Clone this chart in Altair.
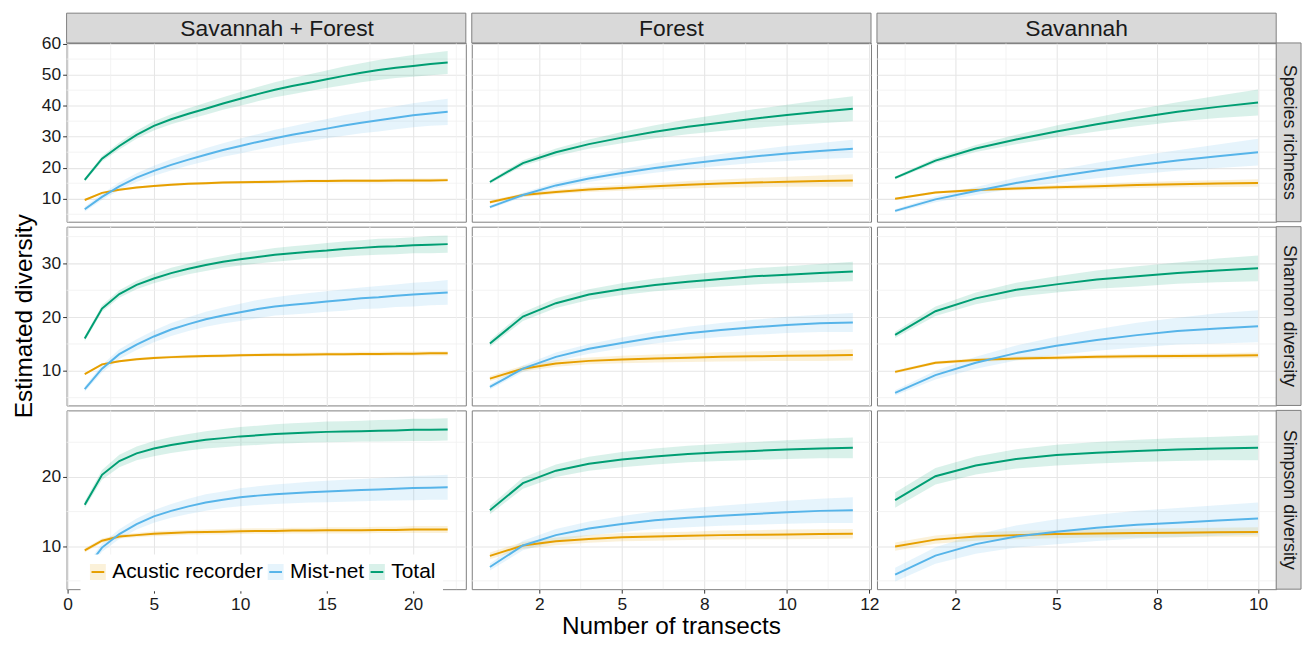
import altair as alt
import pandas as pd

# ---------------- categories / text ----------------
habitats = ["Savannah + Forest", "Forest", "Savannah"]
indices = ["Species richness", "Shannon diversity", "Simpson diversity"]
methods = ["Acustic recorder", "Mist-net", "Total"]
method_colors = ["#E69F00", "#56B4E9", "#009E73"]
band_colors = ["rgba(230,159,0,0.15)", "rgba(86,180,233,0.15)", "rgba(0,158,115,0.15)"]
x_title = "Number of transects"
y_title = "Estimated diversity"

# number of transects per habitat (x = 1..N)
n_transects = [22, 12, 10]

# ---------------- axis breaks / labels ----------------
x_breaks_sf = [0, 5, 10, 15, 20]
x_labels_sf = ["0", "5", "10", "15", "20"]
x_minor_sf = [2.5, 7.5, 12.5, 17.5, 22.5]
x_breaks_f = [2.5, 5, 7.5, 10, 12.5]
x_labels_f = ["2", "5", "8", "10", "12"]
x_minor_f = [1.25, 3.75, 6.25, 8.75, 11.25]
x_breaks_s = [2.5, 5, 7.5, 10]
x_labels_s = ["2", "5", "8", "10"]
x_minor_s = [1.25, 3.75, 6.25, 8.75]

x_dom_sf = [-0.05, 23.05]
x_dom_f = [0.45, 12.55]
x_dom_s = [0.55, 10.45]

y_breaks_rich = [10, 20, 30, 40, 50, 60]
y_minor_rich = [5, 15, 25, 35, 45, 55]
y_breaks_shan = [10, 20, 30]
y_minor_shan = [5, 15, 25, 35]
y_breaks_simp = [10, 20]
y_minor_simp = [5, 15, 25]

y_dom_rich = [2.6, 60.2]
y_dom_shan = [3.55, 36.85]
y_dom_simp = [3.8, 29.6]

# ---------------- data: estimates and CI half widths ----------------
# Species richness
rich_sf_acu = [9.6, 11.9, 12.9, 13.6, 14.1, 14.5, 14.8, 15.0, 15.2, 15.3, 15.4, 15.5, 15.6, 15.7, 15.7, 15.8, 15.8, 15.8, 15.9, 15.9, 15.9, 16.0]
rich_sf_acu_ci = [0.3, 0.3, 0.3, 0.35, 0.35, 0.4, 0.4, 0.4, 0.45, 0.45, 0.45, 0.5, 0.5, 0.5, 0.5, 0.55, 0.55, 0.55, 0.55, 0.6, 0.6, 0.6]
rich_sf_mist = [6.6, 10.6, 14.0, 16.8, 19.0, 20.9, 22.6, 24.2, 25.7, 27.0, 28.3, 29.5, 30.6, 31.6, 32.6, 33.6, 34.5, 35.3, 36.1, 36.9, 37.5, 38.0]
rich_sf_mist_ci = [0.8, 1.0, 1.2, 1.4, 1.6, 1.8, 1.9, 2.1, 2.2, 2.4, 2.5, 2.7, 2.8, 3.0, 3.1, 3.3, 3.4, 3.6, 3.7, 3.9, 4.0, 4.2]
rich_sf_tot = [16.1, 22.9, 27.0, 30.6, 33.5, 35.6, 37.4, 39.0, 40.7, 42.2, 43.7, 45.1, 46.3, 47.4, 48.5, 49.6, 50.6, 51.5, 52.2, 52.8, 53.4, 53.9]
rich_sf_tot_ci = [0.6, 0.9, 1.1, 1.3, 1.5, 1.6, 1.8, 1.9, 2.0, 2.2, 2.3, 2.4, 2.6, 2.7, 2.8, 3.0, 3.1, 3.2, 3.3, 3.5, 3.6, 3.7]

rich_f_acu = [8.9, 11.2, 12.2, 13.0, 13.5, 14.0, 14.5, 14.9, 15.2, 15.5, 15.7, 15.9]
rich_f_acu_ci = [0.5, 0.6, 0.7, 0.8, 0.9, 1.0, 1.2, 1.3, 1.5, 1.6, 1.8, 2.0]
rich_f_mist = [7.3, 11.2, 14.3, 16.5, 18.3, 19.9, 21.3, 22.5, 23.6, 24.6, 25.4, 26.1]
rich_f_mist_ci = [0.5, 0.7, 0.9, 1.1, 1.3, 1.5, 1.7, 1.9, 2.1, 2.4, 2.6, 2.9]
rich_f_tot = [15.4, 21.5, 25.0, 27.6, 29.7, 31.6, 33.2, 34.5, 35.8, 37.0, 38.0, 39.0]
rich_f_tot_ci = [0.6, 0.9, 1.2, 1.5, 1.8, 2.1, 2.4, 2.7, 3.0, 3.3, 3.7, 4.0]

rich_s_acu = [10.0, 12.0, 12.8, 13.3, 13.7, 14.0, 14.4, 14.7, 14.9, 15.1]
rich_s_acu_ci = [0.3, 0.4, 0.5, 0.6, 0.7, 0.8, 0.9, 1.0, 1.1, 1.2]
rich_s_mist = [6.1, 9.8, 12.5, 15.1, 17.2, 19.1, 20.8, 22.3, 23.7, 25.0]
rich_s_mist_ci = [0.5, 0.9, 1.3, 1.7, 2.1, 2.5, 2.9, 3.3, 3.8, 4.3]
rich_s_tot = [16.7, 22.3, 26.2, 29.1, 31.7, 34.0, 36.1, 38.0, 39.6, 41.0]
rich_s_tot_ci = [0.5, 0.8, 1.1, 1.5, 1.9, 2.3, 2.7, 3.1, 3.6, 4.2]

# Shannon diversity
shan_sf_acu = [9.4, 11.2, 11.8, 12.15, 12.4, 12.55, 12.65, 12.75, 12.8, 12.9, 12.95, 13.0, 13.0, 13.05, 13.1, 13.1, 13.15, 13.15, 13.2, 13.2, 13.25, 13.25]
shan_sf_acu_ci = [0.2, 0.2, 0.2, 0.25, 0.25, 0.25, 0.3, 0.3, 0.3, 0.3, 0.3, 0.35, 0.35, 0.35, 0.35, 0.35, 0.4, 0.4, 0.4, 0.4, 0.4, 0.4]
shan_sf_mist = [6.6, 10.4, 13.1, 14.9, 16.4, 17.7, 18.7, 19.6, 20.3, 20.9, 21.5, 22.0, 22.3, 22.6, 22.9, 23.2, 23.5, 23.7, 24.0, 24.2, 24.4, 24.6]
shan_sf_mist_ci = [0.5, 0.7, 0.9, 1.0, 1.1, 1.2, 1.3, 1.4, 1.5, 1.6, 1.7, 1.7, 1.8, 1.9, 1.9, 2.0, 2.0, 2.1, 2.1, 2.2, 2.2, 2.3]
shan_sf_tot = [16.0, 21.6, 24.3, 26.0, 27.2, 28.2, 29.0, 29.7, 30.3, 30.8, 31.2, 31.6, 31.9, 32.2, 32.4, 32.7, 32.9, 33.1, 33.2, 33.4, 33.5, 33.6]
shan_sf_tot_ci = [0.5, 0.6, 0.7, 0.8, 0.9, 1.0, 1.0, 1.1, 1.1, 1.2, 1.2, 1.3, 1.3, 1.3, 1.4, 1.4, 1.4, 1.5, 1.5, 1.5, 1.6, 1.6]

shan_f_acu = [8.55, 10.4, 11.35, 11.85, 12.1, 12.3, 12.45, 12.6, 12.7, 12.8, 12.85, 12.95]
shan_f_acu_ci = [0.5, 0.55, 0.6, 0.65, 0.7, 0.75, 0.8, 0.85, 0.9, 0.95, 1.0, 1.05]
shan_f_mist = [7.0, 10.4, 12.6, 14.1, 15.2, 16.2, 17.0, 17.6, 18.1, 18.55, 18.85, 19.0]
shan_f_mist_ci = [0.5, 0.6, 0.8, 0.9, 1.0, 1.1, 1.2, 1.3, 1.4, 1.5, 1.6, 1.75]
shan_f_tot = [15.1, 20.1, 22.6, 24.2, 25.2, 26.0, 26.6, 27.1, 27.6, 27.9, 28.2, 28.5]
shan_f_tot_ci = [0.6, 0.8, 0.9, 1.0, 1.1, 1.2, 1.3, 1.4, 1.5, 1.6, 1.7, 1.8]

shan_s_acu = [9.8, 11.5, 12.0, 12.3, 12.45, 12.6, 12.7, 12.75, 12.8, 12.9]
shan_s_acu_ci = [0.3, 0.3, 0.35, 0.35, 0.4, 0.4, 0.4, 0.45, 0.45, 0.5]
shan_s_mist = [5.9, 9.2, 11.5, 13.3, 14.65, 15.75, 16.65, 17.4, 17.9, 18.3]
shan_s_mist_ci = [0.5, 0.8, 1.1, 1.4, 1.7, 2.0, 2.3, 2.5, 2.8, 3.0]
shan_s_tot = [16.7, 21.1, 23.5, 25.1, 26.1, 27.0, 27.6, 28.2, 28.7, 29.1]
shan_s_tot_ci = [0.6, 0.9, 1.1, 1.3, 1.5, 1.7, 1.9, 2.0, 2.2, 2.4]

# Simpson diversity
simp_sf_acu = [9.4, 10.8, 11.4, 11.6, 11.8, 11.9, 12.0, 12.05, 12.1, 12.15, 12.2, 12.2, 12.25, 12.25, 12.3, 12.3, 12.3, 12.35, 12.35, 12.4, 12.4, 12.4]
simp_sf_acu_ci = [0.3, 0.3, 0.3, 0.3, 0.35, 0.35, 0.35, 0.35, 0.4, 0.4, 0.4, 0.4, 0.4, 0.4, 0.45, 0.45, 0.45, 0.45, 0.45, 0.5, 0.5, 0.5]
simp_sf_mist = [6.5, 9.8, 11.75, 13.2, 14.3, 15.1, 15.75, 16.3, 16.7, 17.05, 17.3, 17.5, 17.65, 17.8, 17.9, 18.0, 18.1, 18.2, 18.3, 18.4, 18.45, 18.5]
simp_sf_mist_ci = [0.5, 0.6, 0.7, 0.8, 0.9, 1.0, 1.1, 1.2, 1.2, 1.3, 1.35, 1.4, 1.45, 1.5, 1.55, 1.6, 1.6, 1.65, 1.7, 1.75, 1.75, 1.8]
simp_sf_tot = [16.0, 20.3, 22.3, 23.4, 24.1, 24.6, 25.0, 25.35, 25.6, 25.85, 26.0, 26.2, 26.3, 26.4, 26.5, 26.55, 26.6, 26.65, 26.7, 26.8, 26.8, 26.85]
simp_sf_tot_ci = [0.5, 0.7, 0.9, 1.0, 1.1, 1.15, 1.2, 1.25, 1.3, 1.35, 1.4, 1.4, 1.45, 1.45, 1.5, 1.5, 1.5, 1.55, 1.55, 1.6, 1.6, 1.6]

simp_f_acu = [8.6, 10.1, 10.7, 11.05, 11.3, 11.4, 11.5, 11.6, 11.65, 11.7, 11.75, 11.8]
simp_f_acu_ci = [0.5, 0.5, 0.55, 0.55, 0.6, 0.6, 0.6, 0.65, 0.65, 0.7, 0.7, 0.7]
simp_f_mist = [7.0, 10.1, 11.6, 12.55, 13.2, 13.75, 14.1, 14.4, 14.65, 14.9, 15.1, 15.2]
simp_f_mist_ci = [0.5, 0.7, 0.9, 1.0, 1.15, 1.25, 1.35, 1.45, 1.55, 1.65, 1.75, 1.85]
simp_f_tot = [15.2, 19.1, 20.9, 21.9, 22.5, 22.95, 23.3, 23.55, 23.75, 23.95, 24.1, 24.2]
simp_f_tot_ci = [0.6, 0.8, 0.9, 1.0, 1.1, 1.15, 1.2, 1.25, 1.3, 1.35, 1.4, 1.5]

simp_s_acu = [9.95, 10.95, 11.4, 11.6, 11.75, 11.85, 11.9, 11.95, 12.0, 12.05]
simp_s_acu_ci = [0.6, 0.6, 0.6, 0.6, 0.6, 0.6, 0.65, 0.65, 0.65, 0.7]
simp_s_mist = [5.9, 8.65, 10.3, 11.4, 12.1, 12.65, 13.1, 13.4, 13.7, 14.0]
simp_s_mist_ci = [1.0, 1.2, 1.4, 1.6, 1.8, 1.9, 2.0, 2.1, 2.2, 2.3]
simp_s_tot = [16.65, 20.1, 21.65, 22.6, 23.15, 23.5, 23.75, 23.95, 24.1, 24.2]
simp_s_tot_ci = [1.1, 1.2, 1.3, 1.4, 1.5, 1.55, 1.6, 1.65, 1.7, 1.8]

series = {
    (0, 0): [(rich_sf_acu, rich_sf_acu_ci), (rich_sf_mist, rich_sf_mist_ci), (rich_sf_tot, rich_sf_tot_ci)],
    (0, 1): [(rich_f_acu, rich_f_acu_ci), (rich_f_mist, rich_f_mist_ci), (rich_f_tot, rich_f_tot_ci)],
    (0, 2): [(rich_s_acu, rich_s_acu_ci), (rich_s_mist, rich_s_mist_ci), (rich_s_tot, rich_s_tot_ci)],
    (1, 0): [(shan_sf_acu, shan_sf_acu_ci), (shan_sf_mist, shan_sf_mist_ci), (shan_sf_tot, shan_sf_tot_ci)],
    (1, 1): [(shan_f_acu, shan_f_acu_ci), (shan_f_mist, shan_f_mist_ci), (shan_f_tot, shan_f_tot_ci)],
    (1, 2): [(shan_s_acu, shan_s_acu_ci), (shan_s_mist, shan_s_mist_ci), (shan_s_tot, shan_s_tot_ci)],
    (2, 0): [(simp_sf_acu, simp_sf_acu_ci), (simp_sf_mist, simp_sf_mist_ci), (simp_sf_tot, simp_sf_tot_ci)],
    (2, 1): [(simp_f_acu, simp_f_acu_ci), (simp_f_mist, simp_f_mist_ci), (simp_f_tot, simp_f_tot_ci)],
    (2, 2): [(simp_s_acu, simp_s_acu_ci), (simp_s_mist, simp_s_mist_ci), (simp_s_tot, simp_s_tot_ci)],
}

x_breaks = [x_breaks_sf, x_breaks_f, x_breaks_s]
x_labels = [x_labels_sf, x_labels_f, x_labels_s]
x_minor = [x_minor_sf, x_minor_f, x_minor_s]
x_domains = [x_dom_sf, x_dom_f, x_dom_s]
y_breaks = [y_breaks_rich, y_breaks_shan, y_breaks_simp]
y_minor = [y_minor_rich, y_minor_shan, y_minor_simp]
y_domains = [y_dom_rich, y_dom_shan, y_dom_simp]

# ---------------- styling ----------------
FONT = "Liberation Sans"
W, H = 402, 180
STRIP_H = 30
STRIP_W = 25
STRIP_FILL = "#D9D9D9"
BORDER = "#7F7F7F"
GRID_MAJOR = "#E6E6E6"
GRID_MINOR = "#F0F0F0"
STRIP_TEXT_DX = [11, 0, 0]  # horizontal nudge of strip labels (as in the original)

color_scale = alt.Scale(domain=methods, range=method_colors)
fill_scale = alt.Scale(domain=methods, range=band_colors)


def label_expr(breaks, labels):
    expr = "''"
    for b, lab in reversed(list(zip(breaks, labels))):
        expr = f"abs(datum.value - ({b})) < 1e-6 ? '{lab}' : {expr}"
    return expr


# legend key: light square with a short line through its middle
# (single sub-path so that the dash pattern only strokes the middle line)
KEY_PATH = "M-0.8,0H1V-1H-1V1H1V0Z"
KEY_SIZE = 256  # 16 px square
legend_spec = alt.Legend(
    orient="none",
    legendX=14,
    legendY=2 * (H + 5) + 145,
    direction="horizontal",
    title=None,
    labelFont=FONT,
    labelFontSize=21,
    labelColor="#000000",
    symbolType=KEY_PATH,
    symbolSize=KEY_SIZE,
    symbolStrokeWidth=2,
    symbolDash=[12.8, 300],
    fillColor="white",
    padding=7,
    columnPadding=0,
    labelOffset=4,
)


def make_panel(ri, ci):
    rows = []
    for mi, m in enumerate(methods):
        est, half = series[(ri, ci)][mi]
        for k, (v, e) in enumerate(zip(est, half)):
            rows.append({"x": k + 1, "method": m, "est": v, "lo": v - e, "hi": v + e})
    df = pd.DataFrame(rows)

    bottom = ri == 2
    left = ci == 0
    xs = alt.Scale(domain=x_domains[ci], nice=False, zero=False)
    ys = alt.Scale(domain=y_domains[ri], nice=False, zero=False)
    xaxis = alt.Axis(values=x_breaks[ci], title=None, grid=True, labels=bottom, ticks=bottom,
                     domain=False, labelExpr=label_expr(x_breaks[ci], x_labels[ci]))
    yaxis = alt.Axis(values=y_breaks[ri], title=None, grid=True, labels=left, ticks=left,
                     domain=False)

    minor_x = alt.Chart(pd.DataFrame({"v": x_minor[ci]})).mark_rule(
        color=GRID_MINOR, strokeWidth=0.8).encode(x=alt.X("v:Q", scale=xs, axis=xaxis))
    minor_y = alt.Chart(pd.DataFrame({"v": y_minor[ri]})).mark_rule(
        color=GRID_MINOR, strokeWidth=0.8).encode(y=alt.Y("v:Q", scale=ys, axis=yaxis))

    base = alt.Chart(df)
    band = base.mark_area(opacity=1).encode(
        x=alt.X("x:Q", scale=xs, axis=xaxis),
        y=alt.Y("lo:Q", scale=ys, axis=yaxis),
        y2="hi:Q",
        fill=alt.Fill("method:N", scale=fill_scale, legend=legend_spec),
    )
    line = base.mark_line(strokeWidth=2).encode(
        x=alt.X("x:Q", scale=xs, axis=xaxis),
        y=alt.Y("est:Q", scale=ys, axis=yaxis),
        color=alt.Color("method:N", scale=color_scale, legend=legend_spec),
    )
    layers = [minor_x, minor_y, band, line]

    if ri == 0:
        sd = alt.Chart(pd.DataFrame({"label": [habitats[ci]]}))
        layers.append(sd.mark_rect(fill=STRIP_FILL, stroke=BORDER, strokeWidth=1).encode(
            x=alt.value(0), x2=alt.value(W), y=alt.value(-STRIP_H), y2=alt.value(0)))
        layers.append(sd.mark_text(font=FONT, fontSize=23, color="#1A1A1A", baseline="middle",
                                   dx=STRIP_TEXT_DX[ci]).encode(
            x=alt.value(W / 2), y=alt.value(-STRIP_H / 2 + 1), text="label:N"))
    if ci == 2:
        sd = alt.Chart(pd.DataFrame({"label": [indices[ri]]}))
        layers.append(sd.mark_rect(fill=STRIP_FILL, stroke=BORDER, strokeWidth=1).encode(
            x=alt.value(W), x2=alt.value(W + STRIP_W), y=alt.value(0), y2=alt.value(H)))
        layers.append(sd.mark_text(font=FONT, fontSize=18, color="#1A1A1A", angle=90,
                                   baseline="middle").encode(
            x=alt.value(W + STRIP_W / 2), y=alt.value(H / 2), text="label:N"))
    if ri == 1 and ci == 0:
        td = alt.Chart(pd.DataFrame({"label": [y_title]}))
        layers.append(td.mark_text(font=FONT, fontSize=24.5, color="#000000", angle=270,
                                   baseline="middle").encode(
            x=alt.value(-42), y=alt.value(H / 2), text="label:N"))
    if ri == 2 and ci == 1:
        td = alt.Chart(pd.DataFrame({"label": [x_title]}))
        layers.append(td.mark_text(font=FONT, fontSize=24.5, color="#000000",
                                   baseline="middle").encode(
            x=alt.value(W / 2), y=alt.value(H + 38), text="label:N"))

    return alt.layer(*layers).properties(width=W, height=H)


panels = [make_panel(r, c) for r in range(3) for c in range(3)]

chart = alt.concat(*panels, columns=3, spacing={"row": 5, "column": 6}, bounds="flush").properties(
    padding={"left": 3, "top": 2, "right": 2, "bottom": 0}
).configure(font=FONT).configure_view(
    stroke=BORDER, strokeWidth=1
).configure_axis(
    labelFont=FONT, labelFontSize=17.5, labelColor="#1A1A1A",
    tickColor="#333333", tickSize=4, tickWidth=1,
    gridColor=GRID_MAJOR, gridWidth=1.1, labelPadding=2,
    labelFlush=False, labelOverlap=False,
)

chart.save("out.html", embed_options={"renderer": "svg", "actions": False})
